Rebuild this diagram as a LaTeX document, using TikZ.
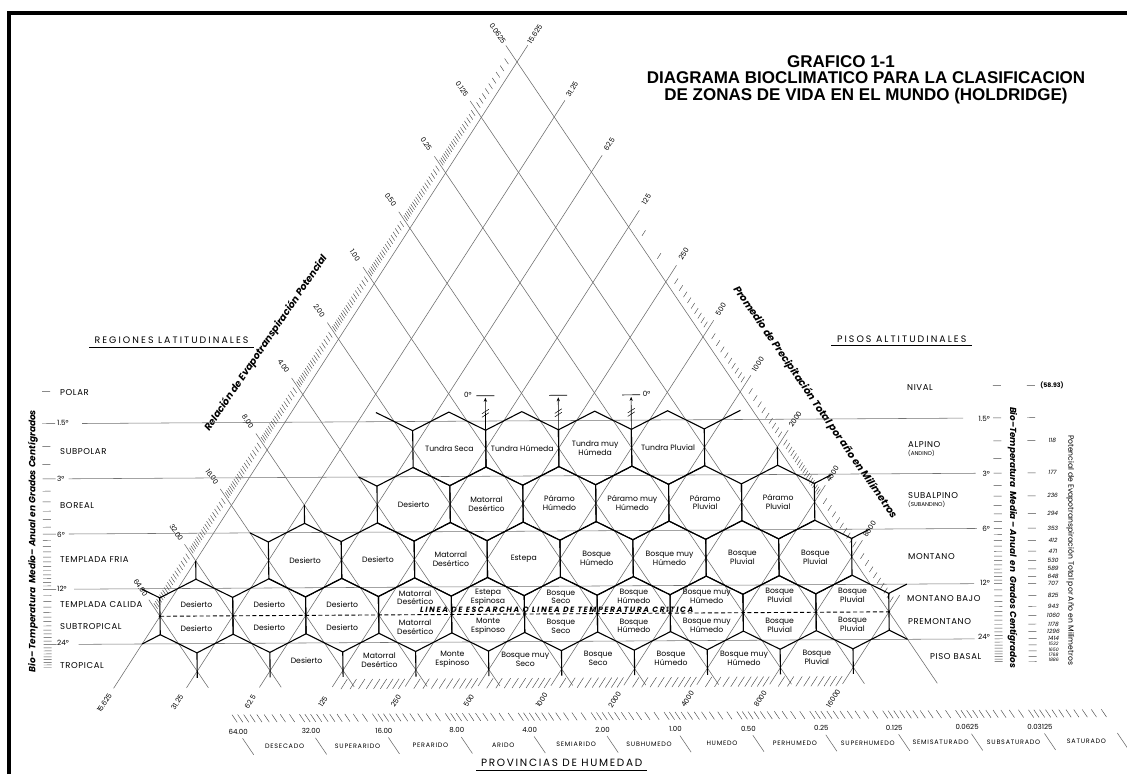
\documentclass[tikz,border=0pt]{standalone}
\usepackage{graphicx}
\usepackage{fontspec}
\setmainfont{Poppins}
\newfontfamily\titlefont{Liberation Sans}
\usetikzlibrary{arrows.meta}
\newcommand\hexg[2]{\draw[hexs] ({#2+1/6},{#1-2/3}) -- ({#2+5/6},{#1-1/3}) -- ({#2+7/6},{#1+1/3}) -- ({#2+5/6},{#1+2/3}) -- ({#2+1/6},{#1+1/3}) -- ({#2-1/6},{#1-1/3}) -- cycle;}
\begin{document}
\begin{tikzpicture}[x=1pt,y=-1pt,
  lat/.style={draw=black!58,line width=0.55pt},
  hln/.style={draw=black!55,line width=0.55pt},
  hexs/.style={draw=black,line width=1.1pt,line join=miter},
  tk/.style={draw=black!70,line width=0.45pt},
  hl/.style={font=\fontsize{7.7}{8.9}\selectfont,align=center,inner sep=0pt},
  sc/.style={font=\fontsize{7}{8}\selectfont,inner sep=0pt},
  lab/.style={font=\fontsize{8.5}{9}\selectfont\addfontfeature{LetterSpace=7},inner sep=0pt},
  labs/.style={font=\fontsize{5.6}{6}\selectfont,inner sep=0pt},
  tdeg/.style={font=\fontsize{7.2}{8}\selectfont,inner sep=0pt},
  head/.style={font=\fontsize{9.4}{10}\selectfont\addfontfeature{LetterSpace=22},inner sep=0pt},
  headb/.style={font=\fontsize{10.5}{11}\selectfont\addfontfeature{LetterSpace=16},inner sep=0pt},
  prov/.style={font=\fontsize{6.4}{7}\selectfont\addfontfeature{LetterSpace=12},inner sep=0pt},
  pet/.style={font=\fontsize{5.8}{6}\selectfont\itshape,inner sep=0pt},
  ttl/.style={font=\titlefont\bfseries\fontsize{17}{17}\selectfont,anchor=base,inner sep=0pt},
]
\useasboundingbox (0,0) rectangle (1127,774);
\fill[white] (0,0) rectangle (1127,774);
\draw[line width=4pt,line join=miter] (9,774) -- (9,13.3) -- (1127,13.3);
% title
\node[ttl] (t1) at (841,67.5) {GRAFICO 1-1};
\node[ttl] (t2) at (866,83.5) {DIAGRAMA BIOCLIMATICO PARA LA CLASIFICACION};
\node[ttl] (t3) at (866,100) {DE ZONAS DE VIDA EN EL MUNDO (HOLDRIDGE)};
% headers
\node[head] (rl) at (171.5,340.3) {REGIONES\ LATITUDINALES};
\draw[line width=0.6pt] (89,346.8) -- (254,346.8);
\node[head] (pa) at (901.7,338.8) {PISOS\ ALTITUDINALES};
\draw[line width=0.6pt] (831,345) -- (972,345);
\node[headb] (ph) at (561.7,763) {PROVINCIAS\ DE\ HUMEDAD};
\draw[line width=0.6pt] (476,770.5) -- (647,770.5);
% left labels
\foreach \yy/\txt [count=\i] in {392.7/POLAR,451.7/SUBPOLAR,506/BOREAL,560/TEMPLADA FRIA,605/TEMPLADA CALIDA,626.7/SUBTROPICAL,666/TROPICAL}
  \node[lab,anchor=west] (ll\i) at (60,\yy) {\txt};
\foreach \yy/\txt [count=\i] in {423.3/1.5°,479.3/3°,535/6°,589.3/12°,643.3/24°}
  \node[tdeg,anchor=west] (lt\i) at (57,\yy) {\txt};
% right labels
\node[lab,anchor=west] (r1) at (907,388) {NIVAL};
\node[lab,anchor=west] (r2) at (908,445) {ALPINO};
\node[labs,anchor=west] (r2b) at (908,453.5) {(ANDINO)};
\node[lab,anchor=west] (r3) at (908,495.7) {SUBALPINO};
\node[labs,anchor=west] (r3b) at (908,504.2) {(SUBANDINO)};
\node[lab,anchor=west] (r4) at (908,556.7) {MONTANO};
\node[lab,anchor=west] (r5) at (907,598.3) {MONTANO BAJO};
\node[lab,anchor=west] (r6) at (908,621.7) {PREMONTANO};
\node[lab,anchor=west] (r7) at (930,656.7) {PISO BASAL};
\foreach \yy/\txt [count=\i] in {419/1.5°,474/3°,529/6°,583.3/12°,637.3/24°}
  \node[tdeg,anchor=east] (rt\i) at (990,\yy) {\txt};
% vertical titles
\node[rotate=90] (vl) at (33,541) {\resizebox{262pt}{!}{\bfseries\itshape Bio– Temperatura\ \ Medio– Anual en Grados Centígrados}};
\node[rotate=-90] (vr) at (1012.5,537.5) {\resizebox{261pt}{!}{\bfseries\itshape Bio–Temperatura\ \ Media – Anual\ \ en\ \ Grados Centígrados}};
\node[rotate=-90] (vp) at (1070.5,550) {\resizebox{230pt}{!}{Potencial\ de\ Evapotranspiración\ Total\ por\ Año\ en\ Milímetros}};
% diagonal titles
\node[rotate=55.8] (dl) at (266,343) {\resizebox{210pt}{!}{\bfseries\itshape Relación de Evapotranspiración Potencial}};
\node[rotate=-55.4] (dr) at (815,402.7) {\resizebox{280pt}{!}{\bfseries\itshape Promedio de Precipitación Total por año en Milímetros}};
% frost label
\node (fr) at (556.7,609.5) {\resizebox{273pt}{!}{\bfseries\itshape\addfontfeature{LetterSpace=20}LINEA\ DE\ ESCARCHA\ O\ LINEA\ DE\ TEMPERATURA\ CRITICA}};

\begin{scope}[rotate around={0.35:(563,387)}]
 % horizontal temperature lines
 \foreach \n/\xa/\xb in {6/82/963,7/68/975,8/68/976,9/73/973,10/77/973}
   \draw[hln] (\xa,{61.7+55.21*(\n+0.5)}) -- (\xb,{61.7+55.21*(\n+0.5)});
 % temperature tick columns
 \foreach \T in {1,2,2.5,3.5,4,4.5,5,5.5,6.5,7,7.5,8,8.5,9,9.5,10,10.5,11,11.5,13,14,15,16,17,18,19,20,21,22,23,25,26,27,28,29,30,31,32}{
   \pgfmathsetmacro\yy{61.7+55.21*(6.5+ln(\T/1.5)/ln(2))}
   \draw[tk] (42,\yy) -- (50,\yy);
   \draw[tk] (993,\yy) -- (1001,\yy);}
 \foreach \T in {1.5,3,6,12,24}{
   \pgfmathsetmacro\yy{61.7+55.21*(6.5+ln(\T/1.5)/ln(2))}
   \draw[tk] (42,\yy) -- (55,\yy);
   \draw[tk] (993,\yy) -- (1001,\yy);}
 \foreach \T in {1,1.5,2,3,4,5,6,7,8,9,10,11,12,14,16,18,20,22,24,26,28,30,32}{
   \pgfmathsetmacro\yy{61.7+55.21*(6.5+ln(\T/1.5)/ln(2))}
   \draw[tk] (1027,\yy) -- (1035,\yy);}
 \node[font=\fontsize{6.2}{7}\selectfont\bfseries,inner sep=0pt] (p0) at (1052,388.3) {(58.93)};
 \foreach \T/\v in {2/118,3/177,4/236,5/294,6/353,7/412,8/471,9/530,10/589,11/648,12/707,14/825,16/943,18/1060,20/1178,22/1296,24/1414}{
   \pgfmathsetmacro\yy{61.7+55.21*(6.5+ln(\T/1.5)/ln(2))}
   \node[pet] at (1052,\yy) {\v};}
 \foreach \T/\v in {26/1532,28/1650,30/1768,32/1886}{
   \pgfmathsetmacro\yy{61.7+55.21*(6.5+ln(\T/1.5)/ln(2))-1.2}
   \node[pet,font=\fontsize{4.6}{5}\selectfont\itshape] at (1052,\yy) {\v};}

 \begin{scope}[shift={(519,61.7)},x={(72.9pt,0pt)},y={(-36.04pt,-55.21pt)}]
  % lattice
  \foreach \ja in {0,...,10} \draw[lat] (\ja,\ja-0.3) -- (\ja,11.3);
  \foreach \ma in {0,...,10} \draw[lat] (-0.3,\ma-0.3) -- (11.3-\ma,11.3);
  % scale ticks (left, PET ratio)
  \foreach \ia in {1,...,9}{
    \pgfmathsetmacro\mm{ln(1+\ia/10)/ln(2)}
    \draw[tk] (-0.1,\mm-0.1) -- (-0.2,\mm-0.2);}
  \foreach \ma in {1,...,9} \foreach \ia in {1,...,19}{
    \pgfmathsetmacro\mm{\ma+ln(1+\ia/20)/ln(2)}
    \draw[tk] (-0.1,\mm-0.1) -- (-0.2,\mm-0.2);}
  % right precipitation ticks
  \foreach \jj in {3.263,3.678}
    \draw[tk] (\jj,\jj-0.1) -- (\jj,\jj-0.2);
  \foreach \ja in {4,...,9} \foreach \ia in {1,...,9}{
    \pgfmathsetmacro\jj{\ja+ln(1+\ia/10)/ln(2)}
    \draw[tk] (\jj,\jj-0.1) -- (\jj,\jj-0.2);}
  \foreach \ia in {1,3,5,7,9,11,13,15,17,19}{
    \pgfmathsetmacro\jj{7+ln(1+\ia/20)/ln(2)}
    \draw[tk] (\jj,\jj-0.1) -- (\jj,\jj-0.2);}
  % bottom precipitation ticks
  \foreach \ja in {3,...,9} \foreach \ia in {1,...,9}{
    \pgfmathsetmacro\jj{\ja+ln(1+\ia/10)/ln(2)}
    \draw[tk] (\jj,11.16) -- (\jj,11.34);}
  % bottom PET ticks
  \foreach \ma in {-2,...,9} \foreach \ia in {0,...,9}{
    \pgfmathsetmacro\mm{\ma+ln(1+\ia/10)/ln(2)}
    \draw[tk] (11.79-\mm,11.79) -- (11.93-\mm,11.93);}
  % province separators
  \foreach \ma in {10,...,-2} \draw[lat] (12.22-\ma,12.22) -- (12.52-\ma,12.52);
  % hexagons
  \foreach \ka in {2,...,5} {\hexg{7}{\ka}}
  \foreach \ka in {2,...,7} {\hexg{8}{\ka}}
  \foreach \ka in {1,...,8} {\hexg{9}{\ka}}
  \foreach \ka in {0,...,9} {\hexg{10}{\ka}}
  \foreach \ka in {1,...,10} \draw[hexs] ({\ka-1/6},{32/3}) -- ({\ka+0.06},11.12);
  % half-edge stubs
  \draw[hexs] ({11/6},{20/3}) -- ({7/6},{19/3});
  \draw[hexs] ({35/6},{20/3}) -- ({37/6},{19/3});
  \draw[hexs] ({11/6},{23/3}) -- (1.5,7.5);
  \draw[hexs] ({43/6},{22/3}) -- (7,7);
  \draw[hexs] ({47/6},{23/3}) -- (8,7.5);
  \draw[hexs] ({7/6},{25/3}) -- (1,8);
  \draw[hexs] ({5/6},{26/3}) -- (0.5,8.5);
  \draw[hexs] ({53/6},{26/3}) -- (9,8.5);
  \draw[hexs] ({-1/6},{29/3}) -- (-0.5,9.5);
  \draw[hexs] ({1/6},{28/3}) -- (0,9);
  \draw[hexs] ({59/6},{29/3}) -- (10,9.5);
  \draw[hexs] ({1/6},{31/3}) -- (0,10.5);
  \draw[hexs] ({61/6},{31/3}) -- (10.5,10.5);
  % frost line
  \draw[line width=0.9pt,dash pattern=on 4pt off 2.6pt] (0,10) -- (10,10);
  \foreach \ja in {0,...,10} \fill (\ja,10) circle (1.3pt);
  % zero-degree markers
  \foreach \ka in {2,3,4}{
    \draw[line width=0.6pt,-{Stealth[length=4pt,width=3.2pt]}] ({\ka+5/6},{20/3}) -- ++(0pt,32.5pt);
    \draw[line width=0.7pt] ({\ka+5/6},{20/3}) ++(-9pt,34.5pt) -- ++(18pt,0pt);
    \draw[line width=0.5pt] ({\ka+5/6},{20/3}) ++(-3.5pt,13pt) -- ++(7pt,4.5pt) ++(-7pt,-1pt) -- ++(7pt,4.5pt);}
  \path ({2+5/6},{20/3}) ++(-17.5pt,35pt) node[tdeg] (z1) {0°};
  \path ({4+5/6},{20/3}) ++(15.5pt,35pt) node[tdeg] (z3) {0°};
  % hexagon labels
  \foreach \ka/\txt in {2/{Tundra Seca},3/{Tundra Húmeda},4/{Tundra muy\\Húmeda},5/{Tundra Pluvial}}
    \node[hl] at (\ka+0.5,7) {\txt};
  \foreach \ka/\txt in {2/{Desierto},3/{Matorral\\Desértico},4/{Páramo\\Húmedo},5/{Páramo muy\\Húmedo},6/{Páramo\\Pluvial},7/{Páramo\\Pluvial}}
    \node[hl] at (\ka+0.5,8) {\txt};
  \foreach \ka/\txt in {1/{Desierto},2/{Desierto},3/{Matorral\\Desértico},4/{Estepa},5/{Bosque\\Húmedo},6/{Bosque muy\\Húmedo},7/{Bosque\\Pluvial},8/{Bosque\\Pluvial}}
    \node[hl] at (\ka+0.5,9) {\txt};
  \foreach \ka/\txt/\s in {0/{Desierto}/11,1/{Desierto}/11,2/{Desierto}/11,3/{Matorral\\Desértico}/17,4/{Estepa\\Espinosa}/17,5/{Bosque\\Seco}/17,6/{Bosque\\Húmedo}/17,7/{Bosque muy\\Húmedo}/17,8/{Bosque\\Pluvial}/17,9/{Bosque\\Pluvial}/17}
    \node[hl,yshift=\s pt] at (\ka+0.5,10) {\txt};
  \foreach \ka/\txt in {0/{Desierto},1/{Desierto},2/{Desierto},3/{Matorral\\Desértico},4/{Monte\\Espinoso},5/{Bosque\\Seco},6/{Bosque\\Húmedo},7/{Bosque muy\\Húmedo},8/{Bosque\\Pluvial},9/{Bosque\\Pluvial}}
    \node[hl,yshift=-12.5pt] at (\ka+0.5,10) {\txt};
  \foreach \ka/\txt in {2/{Desierto},3/{Matorral\\Desértico},4/{Monte\\Espinoso},5/{Bosque muy\\Seco},6/{Bosque\\Seco},7/{Bosque\\Húmedo},8/{Bosque muy\\Húmedo},9/{Bosque\\Pluvial}}
    \node[hl,yshift=10pt] at (\ka+0.5,11) {\txt};
  % scale labels
  \foreach \ma/\lb in {0/0.0625,1/0.125,2/0.25,3/0.50,4/1.00,5/2.00,6/4.00,7/8.00,8/16.00,9/32.00,10/64.00}
    \node[sc,rotate=-56] at (-0.52,\ma-0.52) {\lb};
  \foreach \ja/\lb in {0/15.625,1/31.25,2/62.5,3/125,4/250,5/500,6/1000,7/2000,8/4000,9/8000}
    \node[sc,rotate=57] at (\ja,\ja-0.5) {\lb};
  \foreach \ja/\lb in {0/15.625,1/31.25,2/62.5,3/125,4/250,5/500,6/1000,7/2000,8/4000,9/8000,10/16000}
    \node[sc,rotate=57] at (\ja,11.56) {\lb};
  \foreach \ma/\lb in {10/64.00,9/32.00,8/16.00,7/8.00,6/4.00,5/2.00,4/1.00,3/0.50,2/0.25,1/0.125,0/0.0625,-1/0.03125}
    \node[sc] at (12.1-\ma,12.1) {\lb};
  \foreach \ma/\lb in {10/DESECADO,9/SUPERARIDO,8/PERARIDO,7/ARIDO,6/SEMIARIDO,5/SUBHUMEDO,4/HUMEDO,3/PERHUMEDO,2/SUPERHUMEDO,1/SEMISATURADO,0/SUBSATURADO,-1/SATURADO}
    \node[prov] at (12.87-\ma,12.37) {\lb};
 \end{scope}
\end{scope}
\end{tikzpicture}
\end{document}
